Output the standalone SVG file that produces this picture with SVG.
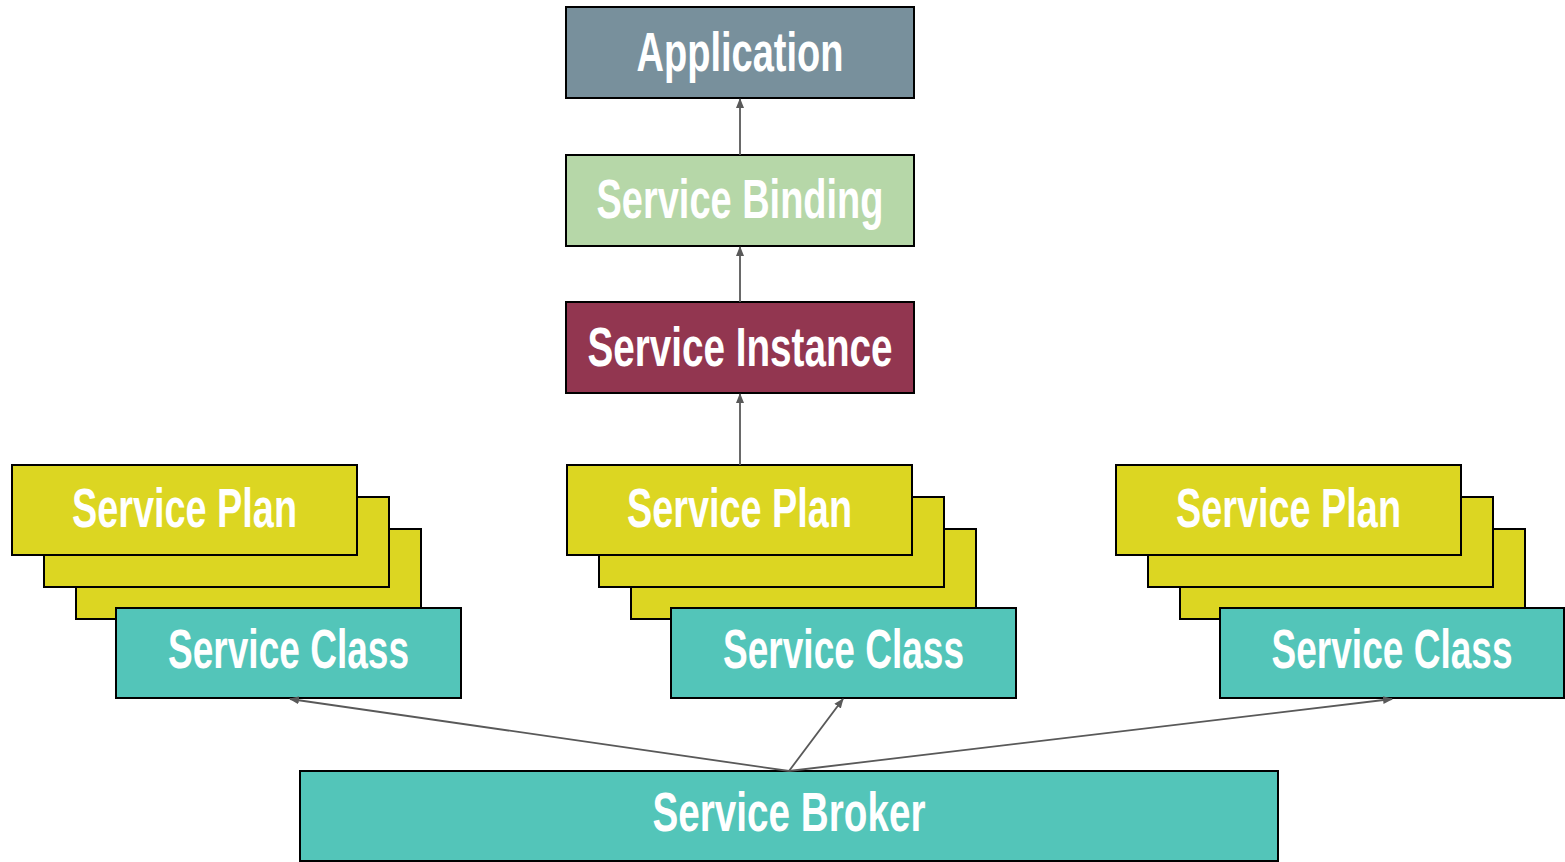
<svg xmlns="http://www.w3.org/2000/svg" width="1565" height="862" viewBox="0 0 1565 862">
<style>
  .box { stroke: #000; stroke-width: 2; }
  .app { fill: #78909c; }
  .bind { fill: #b6d7a8; }
  .inst { fill: #923650; }
  .plan { fill: #dcd622; }
  .cls { fill: #53c5b9; }
  text { font-family: "Liberation Sans", Arial, sans-serif; font-weight: bold; font-size: 56px; fill: #fff; text-anchor: middle; }
  .conn line { stroke: #595959; stroke-width: 1.8; fill: none; marker-end: url(#arr); }
</style>
<defs>
  <marker id="arr" viewBox="0 0 10 10" refX="9" refY="5" markerWidth="10" markerHeight="10" orient="auto" markerUnits="userSpaceOnUse">
    <path d="M0,1 L10,5 L0,9 z" fill="#595959"/>
  </marker>
</defs>
<rect width="1565" height="862" fill="#fff"/>

<g id="application">
  <rect class="box app" x="566" y="7" width="348" height="91"/>
  <text x="740" y="71" textLength="207" lengthAdjust="spacingAndGlyphs">Application</text>
</g>
<g id="service-binding">
  <rect class="box bind" x="566" y="155" width="348" height="91"/>
  <text x="740" y="218" textLength="287" lengthAdjust="spacingAndGlyphs">Service Binding</text>
</g>
<g id="service-instance">
  <rect class="box inst" x="566" y="302" width="348" height="91"/>
  <text x="740" y="366" textLength="305" lengthAdjust="spacingAndGlyphs">Service Instance</text>
</g>

<g id="stack-left">
  <rect class="box plan" x="76" y="529" width="345" height="90"/>
  <rect class="box plan" x="44" y="497" width="345" height="90"/>
  <rect class="box plan" x="12" y="465" width="345" height="90"/>
  <text x="184.5" y="527" textLength="225" lengthAdjust="spacingAndGlyphs">Service Plan</text>
  <rect class="box cls" x="116" y="608" width="345" height="90"/>
  <text x="288.5" y="668" textLength="241" lengthAdjust="spacingAndGlyphs">Service Class</text>
</g>
<g id="stack-middle">
  <rect class="box plan" x="631" y="529" width="345" height="90"/>
  <rect class="box plan" x="599" y="497" width="345" height="90"/>
  <rect class="box plan" x="567" y="465" width="345" height="90"/>
  <text x="739.5" y="527" textLength="225" lengthAdjust="spacingAndGlyphs">Service Plan</text>
  <rect class="box cls" x="671" y="608" width="345" height="90"/>
  <text x="843.5" y="668" textLength="241" lengthAdjust="spacingAndGlyphs">Service Class</text>
</g>
<g id="stack-right">
  <rect class="box plan" x="1180" y="529" width="345" height="90"/>
  <rect class="box plan" x="1148" y="497" width="345" height="90"/>
  <rect class="box plan" x="1116" y="465" width="345" height="90"/>
  <text x="1288.5" y="527" textLength="225" lengthAdjust="spacingAndGlyphs">Service Plan</text>
  <rect class="box cls" x="1220" y="608" width="344" height="90"/>
  <text x="1392" y="668" textLength="241" lengthAdjust="spacingAndGlyphs">Service Class</text>
</g>

<g id="service-broker">
  <rect class="box cls" x="300" y="771" width="978" height="90"/>
  <text x="789" y="831" textLength="273" lengthAdjust="spacingAndGlyphs">Service Broker</text>
</g>

<g class="conn" id="connectors">
  <line x1="740" y1="155" x2="740" y2="99"/>
  <line x1="740" y1="302" x2="740" y2="247"/>
  <line x1="740" y1="465" x2="740" y2="394"/>
  <line x1="789" y1="771" x2="290" y2="699"/>
  <line x1="789" y1="771" x2="843" y2="699"/>
  <line x1="789" y1="771" x2="1392" y2="699"/>
</g>
</svg>
